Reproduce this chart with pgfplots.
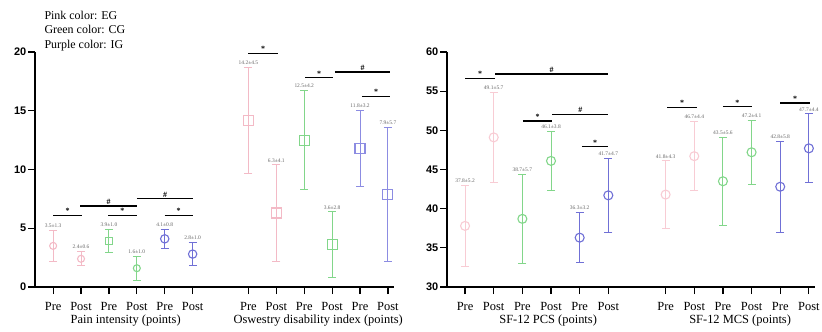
\documentclass[border=0pt]{standalone}
\usepackage{pgfplots}
\pgfplotsset{compat=1.18}
\usepackage{fontspec}
\setmainfont{Liberation Serif}
\setsansfont{Liberation Sans}

\definecolor{egpink}{RGB}{243,186,198}
\definecolor{egpinklt}{RGB}{248,204,212}
\definecolor{cggreen}{RGB}{130,214,138}
\definecolor{igpurple}{RGB}{112,112,214}
\definecolor{igpurplelt}{RGB}{140,140,226}

\pgfplotsset{
  panel/.style={
    scale only axis, anchor=south west, height=235bp,
    axis lines*=left,
    axis line style={line width=1.7bp, black},
    tick align=outside, major tick length=7bp,
    every tick/.style={black, line width=1.2bp},
    xtick={0,1,2,3,4,5,7,8,9,10,11,12},
    xticklabels={Pre,Post,Pre,Post,Pre,Post,Pre,Post,Pre,Post,Pre,Post},
    xticklabel style={font=\fontsize{12.5}{12.5}\selectfont, inner sep=1bp, yshift=-7bp},
    yticklabel style={font=\fontsize{11}{11}\selectfont\sffamily\bfseries, inner sep=1.5bp},
    /pgf/number format/assume math mode=true,
    clip=false,
  },
  eb/.style={
    color=#1, only marks, line width=0.9bp,
    mark options={solid, #1, line width=1.1bp, fill=white},
    error bars/.cd, y dir=both, y explicit,
    error mark=-,
    error mark options={rotate=90, mark size=4bp, #1, line width=0.9bp},
    error bar style={#1, line width=0.9bp},
    /pgfplots/.cd,
  },
}

\tikzset{
  lab/.style={anchor=south, inner sep=0pt, yshift=2.5bp, text=black!60,
    font=\fontsize{5.5}{5.5}\selectfont},
  sym/.style={anchor=south, inner sep=1bp, yshift=0.5bp,
    font=\fontsize{8}{8}\selectfont\bfseries},
  grp/.style={anchor=base, yshift=-36bp, font=\fontsize{12.5}{12.5}\selectfont},
}

% significance bar: x1, x2, y, symbol
\newcommand{\sig}[4]{%
  \addplot[black, line width=1.2bp, forget plot] coordinates {(#1,#3) (#2,#3)};
  \node[sym] at (axis cs:{(#1+#2)/2},#3) {#4};}

\begin{document}
\begin{tikzpicture}[x=1bp,y=1bp]
\path[use as bounding box] (0,0) rectangle (822,331);

\node[anchor=base west, font=\fontsize{12}{12}\selectfont] at (41,312) {Pink color: EG};
\node[anchor=base west, font=\fontsize{12}{12}\selectfont] at (41,298) {Green color: CG};
\node[anchor=base west, font=\fontsize{12}{12}\selectfont] at (41,283) {Purple color: IG};

% ---------- pain intensity and Oswestry disability index ----------
\begin{axis}[panel, at={(35bp,44bp)}, width=358.5bp,
  xmin=-0.65, xmax=12.2, ymin=0, ymax=20, ytick={0,5,10,15,20}]
  % pain intensity
  \addplot[eb=egpink, mark=o, mark size=3.5bp] coordinates {(0,3.5) +- (0,1.3) (1,2.4) +- (0,0.6)};
  \addplot[eb=cggreen, mark=square, mark size=3.5bp] coordinates {(2,3.9) +- (0,1.0)};
  \addplot[eb=cggreen, mark=o, mark size=3.5bp] coordinates {(3,1.6) +- (0,1.0)};
  \addplot[eb=igpurple, mark=o, mark size=4.2bp] coordinates {(4,4.1) +- (0,0.8) (5,2.8) +- (0,1.0)};
  % Oswestry disability index
  \addplot[eb=egpink, mark=square, mark size=5bp] coordinates {(7,14.2) +- (0,4.5) (8,6.3) +- (0,4.1)};
  \addplot[eb=cggreen, mark=square, mark size=5bp] coordinates {(9,12.5) +- (0,4.2) (10,3.6) +- (0,2.8)};
  \addplot[eb=igpurplelt, mark=square, mark size=5bp] coordinates {(11,11.8) +- (0,3.2) (12,7.9) +- (0,5.7)};

  \node[lab] at (axis cs:0,4.8) {3.5±1.3};
  \node[lab] at (axis cs:1,3.0) {2.4±0.6};
  \node[lab] at (axis cs:2,4.9) {3.9±1.0};
  \node[lab] at (axis cs:3,2.6) {1.6±1.0};
  \node[lab] at (axis cs:4,4.9) {4.1±0.8};
  \node[lab] at (axis cs:5,3.8) {2.8±1.0};
  \node[lab] at (axis cs:7,18.7) {14.2±4.5};
  \node[lab] at (axis cs:8,10.4) {6.3±4.1};
  \node[lab] at (axis cs:9,16.7) {12.5±4.2};
  \node[lab] at (axis cs:10,6.4) {3.6±2.8};
  \node[lab] at (axis cs:11,15.0) {11.8±3.2};
  \node[lab] at (axis cs:12,13.6) {7.9±5.7};

  \sig{0}{1.04}{6.1}{*}
  \sig{0.97}{3.0}{6.9}{\#}
  \sig{1.97}{3.0}{6.1}{*}
  \sig{3.0}{5.02}{7.5}{\#}
  \sig{4.0}{5.0}{6.1}{*}
  \sig{7.0}{8.06}{19.9}{*}
  \sig{9.03}{10.04}{17.8}{*}
  \sig{10.1}{12.08}{18.3}{\#}
  \sig{11.07}{12.08}{16.2}{*}

  \node[grp] at (axis cs:2.6,0) {Pain intensity (points)};
  \node[grp] at (axis cs:9.5,0) {Oswestry disability index (points)};
\end{axis}

% ---------- SF-12 physical and mental component summaries ----------
\begin{axis}[panel, at={(447bp,44bp)}, width=367.6bp,
  xmin=-0.63, xmax=12.2, ymin=30, ymax=60, ytick={30,35,40,45,50,55,60}]
  \addplot[eb=egpinklt, mark=o, mark size=4.5bp] coordinates {(0,37.8) +- (0,5.2) (1,49.1) +- (0,5.7) (7,41.8) +- (0,4.3) (8,46.7) +- (0,4.4)};
  \addplot[eb=cggreen, mark=o, mark size=4.5bp] coordinates {(2,38.7) +- (0,5.7) (3,46.1) +- (0,3.8) (9,43.5) +- (0,5.6) (10,47.2) +- (0,4.1)};
  \addplot[eb=igpurple, mark=o, mark size=4.5bp] coordinates {(4,36.3) +- (0,3.2) (5,41.7) +- (0,4.7) (11,42.8) +- (0,5.8) (12,47.7) +- (0,4.4)};

  \node[lab] at (axis cs:0,43.0) {37.8±5.2};
  \node[lab] at (axis cs:1,54.8) {49.1±5.7};
  \node[lab] at (axis cs:2,44.4) {38.7±5.7};
  \node[lab] at (axis cs:3,49.9) {46.1±3.8};
  \node[lab] at (axis cs:4,39.5) {36.3±3.2};
  \node[lab] at (axis cs:5,46.4) {41.7±4.7};
  \node[lab] at (axis cs:7,46.1) {41.8±4.3};
  \node[lab] at (axis cs:8,51.1) {46.7±4.4};
  \node[lab] at (axis cs:9,49.1) {43.5±5.6};
  \node[lab] at (axis cs:10,51.3) {47.2±4.1};
  \node[lab] at (axis cs:11,48.6) {42.8±5.8};
  \node[lab] at (axis cs:12,52.1) {47.7±4.4};

  \sig{0}{1.05}{56.6}{*}
  \sig{1.05}{5.0}{57.2}{\#}
  \sig{2.02}{3.04}{51.2}{*}
  \sig{3.04}{5.0}{52.0}{\#}
  \sig{4.08}{5.0}{47.9}{*}
  \sig{7.05}{8.1}{52.9}{*}
  \sig{9.0}{10.0}{53.0}{*}
  \sig{11.0}{12.04}{53.5}{*}

  \node[grp] at (axis cs:2.9,30) {SF-12 PCS (points)};
  \node[grp] at (axis cs:9.6,30) {SF-12 MCS (points)};
\end{axis}
\end{tikzpicture}
\end{document}
